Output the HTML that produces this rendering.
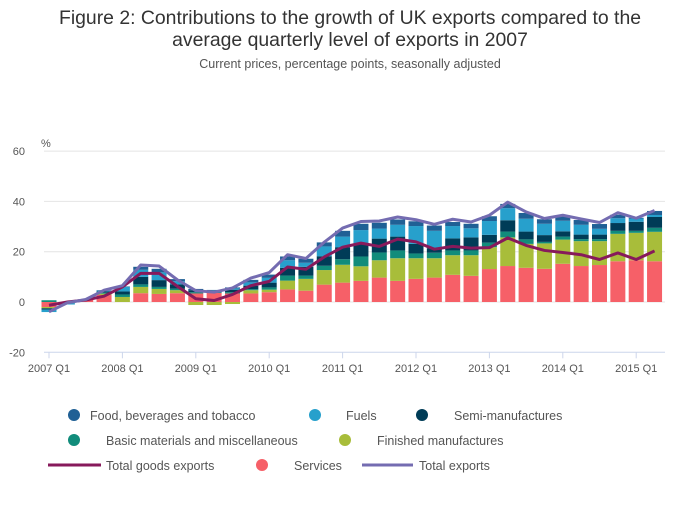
<!DOCTYPE html>
<html><head><meta charset="utf-8"><style>
body{margin:0;background:#fff;width:700px;height:502px;overflow:hidden;font-family:"Liberation Sans",sans-serif}
svg text{font-family:"Liberation Sans",sans-serif}
</style></head><body>
<svg id="chart" width="700" height="502" xmlns="http://www.w3.org/2000/svg">
<text x="350" y="24" text-anchor="middle" font-size="19.4" fill="#333">Figure 2: Contributions to the growth of UK exports compared to the</text>
<text x="350" y="46" text-anchor="middle" font-size="19.4" fill="#333">average quarterly level of exports in 2007</text>
<text x="350" y="68" text-anchor="middle" font-size="12.5" fill="#555">Current prices, percentage points, seasonally adjusted</text>
<text x="41" y="147" font-size="11" fill="#555">%</text>
<g id="grid"></g><g id="bars"></g><g id="lines"></g><g id="axes"></g>
<g font-size="12.5" fill="#555">
<circle cx="74" cy="415" r="6" fill="#206095"/>
<text x="90" y="420">Food, beverages and tobacco</text>
<circle cx="315" cy="415" r="6" fill="#27a0cc"/>
<text x="346" y="420">Fuels</text>
<circle cx="422" cy="415" r="6" fill="#003c57"/>
<text x="454" y="420">Semi-manufactures</text>
<circle cx="74" cy="440" r="6" fill="#118c7b"/>
<text x="106" y="445">Basic materials and miscellaneous</text>
<circle cx="345" cy="440" r="6" fill="#a8bd3a"/>
<text x="377" y="445">Finished manufactures</text>
<line x1="48" y1="465" x2="101" y2="465" stroke="#871a5b" stroke-width="3"/>
<text x="106" y="470">Total goods exports</text>
<circle cx="262" cy="465" r="6" fill="#f66068"/>
<text x="294" y="470">Services</text>
<line x1="362" y1="465" x2="413" y2="465" stroke="#746cb1" stroke-width="3"/>
<text x="419" y="470">Total exports</text>
</g>
</svg>
<script>
const quarters=["2007 Q1","2007 Q2","2007 Q3","2007 Q4","2008 Q1","2008 Q2","2008 Q3","2008 Q4","2009 Q1","2009 Q2","2009 Q3","2009 Q4","2010 Q1","2010 Q2","2010 Q3","2010 Q4","2011 Q1","2011 Q2","2011 Q3","2011 Q4","2012 Q1","2012 Q2","2012 Q3","2012 Q4","2013 Q1","2013 Q2","2013 Q3","2013 Q4","2014 Q1","2014 Q2","2014 Q3","2014 Q4","2015 Q1","2015 Q2"];
const services=[-2,0,1,2.8,0,3.5,3.2,3.5,3.4,3.6,3.4,3.4,3.9,5,4.5,6.9,7.7,8.4,9.7,8.4,9.2,9.7,10.8,10.4,13.1,14.3,13.6,13.2,15.2,14.3,14.7,16.2,16.6,16.2];
const finished=[-0.5,0,0,0.5,2,2.5,2,1.2,-1.2,-1.2,-0.8,1.3,1,3.5,4.7,5.8,7.1,5.8,6.9,9,8.2,7.7,7.8,8.2,8.7,11.4,9.5,10.1,9.6,9.9,9.5,10.9,10.9,11.7];
const basic=[0.7,0,0,0.4,1,1,0.8,0.6,0.5,0.3,0.5,0.4,0.9,2,1.3,1.7,2.2,3.9,3.1,3.1,1.9,2.2,1.9,1.9,1.8,2.3,1.8,0.6,1.2,0.8,0.8,1.2,0.8,1.6];
const semi=[-0.5,-0.5,0,0.5,1.2,3,2.7,1.7,0.8,0.5,1,1.4,1.9,3.1,3.5,3.8,4.8,5.2,5.5,5.5,3.8,1.8,4.8,5.2,3.1,4.5,3.1,2.7,2.1,1.8,1.8,3.1,3.6,4.3];
const fuels=[-1,-0.5,0,0.3,1.8,2.8,3.1,1.3,0,0.2,0.5,1.3,1.9,3,1.6,3.9,4.2,5.3,4,4.7,7.1,6.9,4.9,3.6,5.5,4.8,5.1,4.5,4.2,3.9,2.3,1.9,1.3,0.8];
const food=[0,0,0,0.2,0.2,1.2,1.4,0.8,0.5,0.2,0.4,1,1.3,1.5,1.6,1.6,2.3,2.5,2.3,2.1,1.9,2.1,1.6,1.8,1.9,1.7,2.3,1.8,1.9,1.9,1.9,1.4,0.3,1.6];
const totalGoods=[-1.3,0,0.8,2.3,6,11.4,11.4,6.2,1.3,0.6,3,6.5,8.2,13.9,13,17.9,21.8,23.4,22.1,25,23.9,21,22.1,21.4,21.6,25.5,22.5,20.5,19.7,18.8,16.9,19.5,16.9,20.3];
const totalExports=[-3.9,-0.3,1,4.7,6.5,14.7,14.3,8.8,4.5,3.9,5.6,9.5,11.7,18.8,17.3,23.8,29.4,32,32.2,33.8,32.7,30.9,32.9,31.8,34.5,39.7,35.8,33.2,34.5,33,31.6,35.5,33.3,36.4];
const yTicks=[-20,0,20,40,60];
const xTickLabels=["2007 Q1","2008 Q1","2009 Q1","2010 Q1","2011 Q1","2012 Q1","2013 Q1","2014 Q1","2015 Q1"];
const series=[["services",services,"#f66068"],["finished",finished,"#a8bd3a"],["basic",basic,"#118c7b"],["semi",semi,"#003c57"],["fuels",fuels,"#27a0cc"],["food",food,"#206095"]];
const NS="http://www.w3.org/2000/svg";
const X=i=>49+i*18.35;
const Y=v=>302-v*2.515;
function mk(t,a,p){const e=document.createElementNS(NS,t);for(const k in a)e.setAttribute(k,a[k]);p.appendChild(e);return e;}
const grid=document.getElementById('grid'),axes=document.getElementById('axes'),bars=document.getElementById('bars'),lines=document.getElementById('lines');
yTicks.forEach(v=>{
 if(v>-20){const g=mk('line',{x1:44,x2:665,y1:Y(v),y2:Y(v),stroke:'#e4e4e4','stroke-width':1},grid);
 
 }
 const t=mk('text',{x:25,y:Y(v)+4,'text-anchor':'end','font-size':11,fill:'#555'},axes);t.textContent=v;
 
 
});
const ax=mk('line',{x1:44,x2:665,y1:Y(-20),y2:Y(-20),stroke:'#ccd6eb','stroke-width':1},axes);


xTickLabels.forEach(l=>{const i=quarters.indexOf(l);const x=X(i);
 const tk=mk('line',{x1:x,x2:x,y1:Y(-20),y2:Y(-20)+6,stroke:'#ccd6eb'},axes);
 
 
 const t=mk('text',{x:x,y:372,'text-anchor':'middle','font-size':11,fill:'#555'},axes);t.textContent=l;
 
 
});
quarters.forEach((q,i)=>{let pos=0,neg=0;
 series.forEach(([n,arr,c])=>{const v=arr[i];if(!v)return;let y0,y1;
  if(v>0){y0=pos;y1=pos+v;pos=y1;}else{y0=neg;y1=neg+v;neg=y1;}
  const r=mk('rect',{x:X(i)-7.5,width:15,y:Math.min(Y(y0),Y(y1)),height:Math.abs(Y(y1)-Y(y0)),fill:c},bars);
  
  
 });
});
[[totalGoods,'#871a5b','total-goods-line'],[totalExports,'#746cb1','total-exports-line']].forEach(([arr,c,n])=>{
 const p=mk('polyline',{points:arr.map((v,i)=>X(i)+','+Y(v)).join(' '),fill:'none',stroke:c,'stroke-width':3,'stroke-linejoin':'round'},lines);
 
 
});
</script>
</body></html>
